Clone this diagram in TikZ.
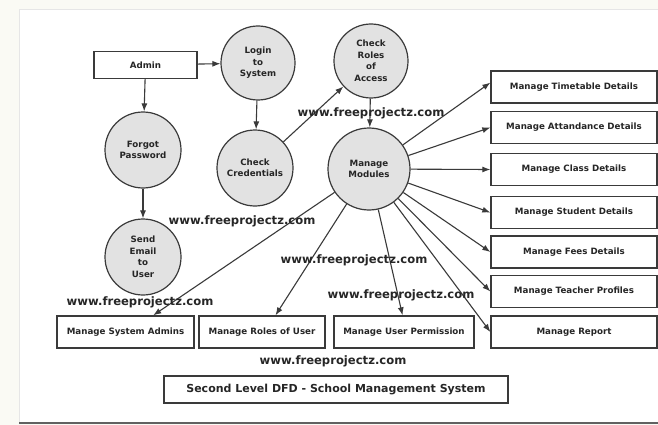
\documentclass[tikz,border=0pt]{standalone}
\usepackage{fontspec}
\setmainfont{DejaVu Sans}
\usetikzlibrary{arrows.meta}
\definecolor{outerbg}{HTML}{FAFAF4}
\definecolor{linec}{HTML}{3A3A3A}
\definecolor{circfill}{HTML}{E2E2E2}
\definecolor{framec}{HTML}{E6E6E6}
\tikzset{
  procnode/.style={circle, draw=linec, line width=1.2pt, fill=circfill, inner sep=0pt,
    minimum size=76pt, align=center, font=\fontsize{8.7}{11.5}\selectfont\bfseries, text=black!85},
  boxnode/.style={rectangle, draw=linec, line width=1.3pt, fill=white, inner sep=0pt,
    minimum height=32pt, align=center, font=\fontsize{8.7}{11}\selectfont\bfseries, text=black!85},
  flow/.style={draw=linec, line width=1.1pt, -{Latex[length=8pt,width=6pt]}},
  wmark/.style={font=\fontsize{11.6}{13}\selectfont\bfseries, text=black!85, inner sep=0pt}
}
\begin{document}
\begin{tikzpicture}[x=1pt,y=-1pt]
\useasboundingbox (0,0) rectangle (658,425);
\fill[outerbg] (0,0) rectangle (658,425);
\fill[white] (19,10) rectangle (658,423);
\draw[framec, line width=1pt] (19,423) -- (19,10) -- (658,10);
\draw[linec!80, line width=1.5pt] (19,423) -- (658,423);

% nodes
\node[boxnode, minimum width=103pt, minimum height=27pt] (admin) at (145.5,65) {Admin};
\node[procnode, minimum size=74pt] (login) at (258,63) {Login\\to\\System};
\node[procnode] (fp) at (143,150) {Forgot\\Password};
\node[procnode] (cc) at (255,168) {Check\\Credentials};
\node[procnode, minimum size=74pt] (cr) at (371,61) {Check\\Roles\\of\\Access};
\node[procnode, minimum size=82pt] (mm) at (369,169) {Manage\\Modules};
\node[procnode] (se) at (143,257) {Send\\Email\\to\\User};

\node[boxnode, minimum width=166pt] (tt) at (574,87) {Manage Timetable Details};
\node[boxnode, minimum width=166pt] (ad) at (574,127.5) {Manage Attandance Details};
\node[boxnode, minimum width=166pt] (cl) at (574,169.5) {Manage Class Details};
\node[boxnode, minimum width=166pt] (st) at (574,212.5) {Manage Student Details};
\node[boxnode, minimum width=166pt] (fe) at (574,252) {Manage Fees Details};
\node[boxnode, minimum width=166pt] (te) at (574,291.5) {Manage Teacher Profiles};
\node[boxnode, minimum width=166pt] (re) at (574,332) {Manage Report};

\node[boxnode, minimum width=137pt] (sa) at (125.5,332) {Manage System Admins};
\node[boxnode, minimum width=126pt] (ru) at (262,332) {Manage Roles of User};
\node[boxnode, minimum width=140pt] (up) at (404,332) {Manage User Permission};

\node[boxnode, minimum width=344pt, minimum height=27pt, font=\fontsize{11}{13}\selectfont\bfseries] (title) at (336,389.5) {Second Level DFD - School Management System};

% connectors
\draw[flow] (admin) -- (login);
\draw[flow] (admin) -- (fp);
\draw[flow] (login) -- (cc);
\draw[flow] (fp) -- (se);
\draw[flow] (cc) -- (cr);
\draw[flow] (cr) -- (mm);
\draw[flow] (mm) -- (tt.177);
\draw[flow] (mm) -- (ad.west);
\draw[flow] (mm) -- (cl.west);
\draw[flow] (mm) -- (st.west);
\draw[flow] (mm) -- (fe.west);
\draw[flow] (mm) -- (te.west);
\draw[flow] (mm) -- (re.west);
\draw[flow] (mm) -- (up.95);
\draw[flow] (mm) -- (ru.51);
\draw[flow] (mm) -- (sa.31);

% watermarks
\node[wmark] (w1) at (371,113) {www.freeprojectz.com};
\node[wmark] (w2) at (242,221) {www.freeprojectz.com};
\node[wmark] (w3) at (140,302) {www.freeprojectz.com};
\node[wmark] (w4) at (354,260) {www.freeprojectz.com};
\node[wmark] (w5) at (401,295) {www.freeprojectz.com};
\node[wmark] (w6) at (333,361) {www.freeprojectz.com};
\end{tikzpicture}
\end{document}
